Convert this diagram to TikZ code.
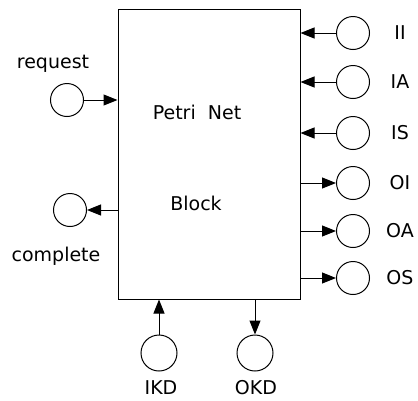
\documentclass[tikz,border=0pt]{standalone}
\usepackage{fontspec}
\setmainfont{DejaVu Sans}
\usetikzlibrary{arrows.meta,positioning}

\begin{document}
\begin{tikzpicture}[x=1pt,y=-1pt,>={Triangle[length=14pt,width=11pt]},line width=1pt,
  every node/.style={font=\fontsize{19}{22}\selectfont},
  place/.style={draw,circle,minimum size=33pt,inner sep=0pt}]
\useasboundingbox (0,0) rectangle (418,400);
\node[draw,minimum width=182pt,minimum height=290pt,inner sep=0pt] (block) at (209,154) {};
\node (blocktitle) at (197,112) {Petri\ \ Net};
\node (blockname) at (196,203) {Block};
% left side
\node[place] (request) at (67,100) {};
\node (requestlabel) at (53,64) {request};
\draw[->] (request) -- (request -| block.west);
\node[place] (complete) at (70,210) {};
\node (completelabel) at (56,256) {complete};
\draw[->] (complete -| block.west) -- (complete);
% right side
\foreach \nm/\y in {II/33,IA/82,IS/133}{
  \node[place] (\nm) at (353,\y) {};
  \node (\nm label) at (400,\y) {\nm};
  \draw[->] (\nm) -- (\nm -| block.east);
}
\foreach \nm/\y in {OI/183,OA/231,OS/278}{
  \node[place] (\nm) at (353,\y) {};
  \node (\nm label) at (400,\y) {\nm};
  \draw[->] (\nm -| block.east) -- (\nm);
}
% bottom
\node[place,minimum size=36pt] (IKD) at (159,353) {};
\node (IKDlabel) at (161,388) {IKD};
\draw[->] (IKD) -- (IKD |- block.south);
\node[place,minimum size=36pt] (OKD) at (255,353) {};
\node (OKDlabel) at (256,388) {OKD};
\draw[->] (OKD |- block.south) -- (OKD);
\end{tikzpicture}
\end{document}
